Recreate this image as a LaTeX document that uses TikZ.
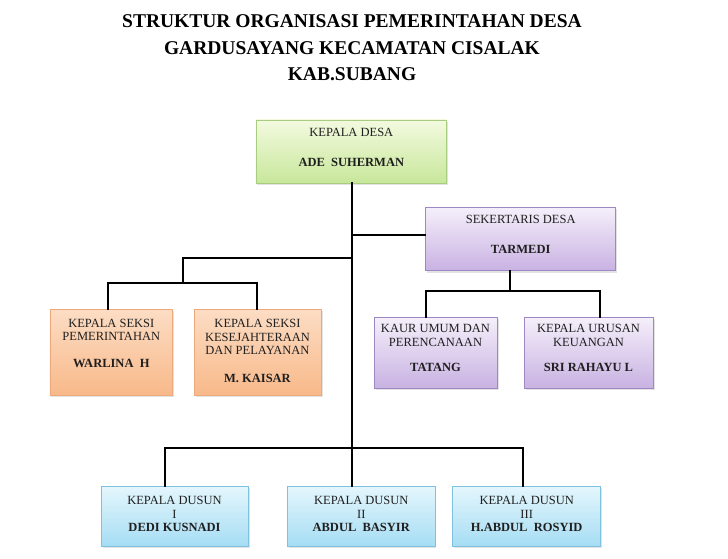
\documentclass[tikz,border=0pt]{standalone}
\usepackage{fontspec}
\setmainfont{Liberation Serif}
\usetikzlibrary{shadows}
\definecolor{gtop}{HTML}{F3FADF}
\definecolor{gbot}{HTML}{C8E79B}
\definecolor{gline}{HTML}{A8CC80}
\definecolor{ptop}{HTML}{F5EFFA}
\definecolor{pbot}{HTML}{C8B2E2}
\definecolor{pline}{HTML}{9E88C4}
\definecolor{otop}{HTML}{FCDDC4}
\definecolor{obot}{HTML}{F8B98A}
\definecolor{oline}{HTML}{EDA97C}
\definecolor{btop}{HTML}{E4F6FC}
\definecolor{bbot}{HTML}{A6DDF4}
\definecolor{bline}{HTML}{7EC2DF}
\begin{document}
\begin{tikzpicture}[x=1pt,y=-1pt,
  box/.style={line width=0.8pt, inner sep=0pt,
    drop shadow={shadow xshift=1.5pt, shadow yshift=-1.8pt, opacity=0.22}},
  gbox/.style={box, draw=gline, top color=gtop, bottom color=gbot},
  pbox/.style={box, draw=pline, top color=ptop, bottom color=pbot},
  obox/.style={box, draw=oline, top color=otop, bottom color=obot},
  bbox/.style={box, draw=bline, top color=btop, bottom color=bbot},
  txt/.style={align=center, inner sep=0pt, text=black!88,
    font=\fontsize{12.5}{13.6}\selectfont},
  ttl/.style={align=center, inner sep=0pt, font=\fontsize{19.5}{26.5}\selectfont\bfseries},
  conn/.style={line width=2pt, black, line cap=rect}
]
\useasboundingbox (0,0) rectangle (728,559);

% title
\node[ttl] (title) at (352,48) {STRUKTUR ORGANISASI PEMERINTAHAN DESA\\GARDUSAYANG KECAMATAN CISALAK\\KAB.SUBANG};

% boxes
\node[gbox, minimum width=190.7pt, minimum height=63pt] (kd) at (351.3,151.5) {};
\node[pbox, minimum width=190pt, minimum height=63.4pt] (sek) at (520.7,239) {};
\node[obox, minimum width=122.7pt, minimum height=86pt] (ws) at (111.3,352) {};
\node[obox, minimum width=127pt, minimum height=86pt] (mk) at (257.5,352) {};
\node[pbox, minimum width=123pt, minimum height=70.5pt] (ta) at (435.5,352.7) {};
\node[pbox, minimum width=129pt, minimum height=70.5pt] (sr) at (588.5,352.7) {};
\node[bbox, minimum width=147pt, minimum height=59.3pt] (d1) at (174.5,516.3) {};
\node[bbox, minimum width=147.3pt, minimum height=59.3pt] (d2) at (361.3,516.3) {};
\node[bbox, minimum width=148pt, minimum height=59.3pt] (d3) at (526.7,516.3) {};

% texts
\node[txt] (kdt) at (351.3,147.7) {KEPALA DESA\\[16pt]\textbf{ADE \ SUHERMAN}};
\node[txt] (sekt) at (520.7,234.5) {SEKERTARIS DESA\\[17pt]\textbf{TARMEDI}};
\node[txt] (wst) at (111.3,343.5) {KEPALA SEKSI\\PEMERINTAHAN\\[13.5pt]\textbf{WARLINA \ H}};
\node[txt] (mkt) at (257.5,351) {KEPALA SEKSI\\KESEJAHTERAAN\\DAN PELAYANAN\\[14.5pt]\textbf{M. KAISAR}};
\node[txt] (tat) at (435.5,348) {KAUR UMUM DAN\\PERENCANAAN\\[11pt]\textbf{TATANG}};
\node[txt] (srt) at (588.5,348) {KEPALA URUSAN\\KEUANGAN\\[11pt]\textbf{SRI RAHAYU L}};
\node[txt] (d1t) at (174.5,514) {KEPALA DUSUN\\I\\\textbf{DEDI KUSNADI}};
\node[txt] (d2t) at (361.3,514) {KEPALA DUSUN\\II\\\textbf{ABDUL \ BASYIR}};
\node[txt] (d3t) at (526.7,514) {KEPALA DUSUN\\III\\\textbf{H.ABDUL \ ROSYID}};

% junction coordinates
\coordinate (jsek) at (351.5,234.5);
\coordinate (jseksi) at (351.5,257.7);
\coordinate (sa) at (182.7,257.7);
\coordinate (sb) at (182.7,283.3);
\coordinate (sl) at (107.7,283.3);
\coordinate (sr2) at (256.7,283.3);
\coordinate (ka) at (510,291);
\coordinate (kl) at (425.7,291);
\coordinate (kr) at (600,291);
\coordinate (trunk) at (351.5,447.5);
\coordinate (dl) at (165,447.5);
\coordinate (dr) at (523.3,447.5);

% connectors
\draw[conn] (kd.south -| trunk) -- (trunk);
\draw[conn] (jsek) -- (jsek -| sek.west);
\draw[conn] (jseksi) -- (sa) -- (sb);
\draw[conn] (sl) -- (sr2);
\draw[conn] (sl) -- (sl |- ws.north);
\draw[conn] (sr2) -- (sr2 |- mk.north);
\draw[conn] (sek.south -| ka) -- (ka);
\draw[conn] (kl) -- (kr);
\draw[conn] (kl) -- (kl |- ta.north);
\draw[conn] (kr) -- (kr |- sr.north);
\draw[conn] (dl) -- (dr);
\draw[conn] (dl) -- (dl |- d1.north);
\draw[conn] (trunk) -- (trunk |- d2.north);
\draw[conn] (dr) -- (dr |- d3.north);
\end{tikzpicture}
\end{document}
